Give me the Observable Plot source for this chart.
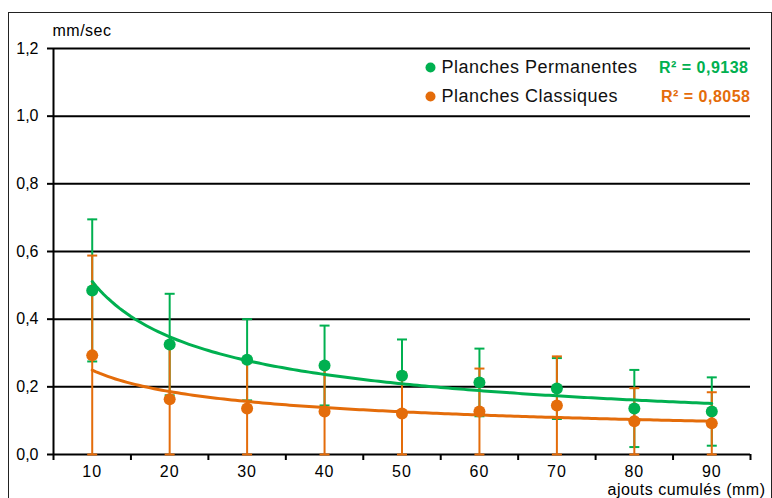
<!DOCTYPE html>
<html>
<head>
<meta charset="utf-8">
<script src="https://cdn.jsdelivr.net/npm/d3@7"></script>
<script src="https://cdn.jsdelivr.net/npm/@observablehq/plot@0.6"></script>
<style>
  html, body { margin: 0; padding: 0; background: #fff; }
  #wrap { position: relative; width: 772px; height: 498px; overflow: hidden; }
  #border { position: absolute; left: 8px; top: 12px; width: 762px; height: 520px; border: 1px solid #222; pointer-events: none; }
  .sp05 text { letter-spacing: 0.5px; }
  .sp1 text { letter-spacing: 1px; }
</style>
</head>
<body>
<div id="wrap"><div id="chart"></div><div id="border"></div></div>
<script>
// ---- data ----
const categories = [10, 20, 30, 40, 50, 60, 70, 80, 90];
const permanentesMean = [0.485, 0.325, 0.280, 0.263, 0.233, 0.213, 0.195, 0.136, 0.127];
const permanentesSd   = [0.210, 0.150, 0.120, 0.118, 0.107, 0.100, 0.090, 0.114, 0.101];
const classiquesMean  = [0.293, 0.163, 0.136, 0.127, 0.121, 0.127, 0.145, 0.098, 0.092];
const classiquesSd    = [0.295, 0.163, 0.136, 0.130, 0.121, 0.127, 0.145, 0.098, 0.092];
const seriesNames = ["Planches Permanentes", "Planches Classiques"];
const seriesColors = ["#00b050", "#e46c0a"];
const r2Labels = ["R² = 0,9138", "R² = 0,8058"];
const yTicks = [0, 0.2, 0.4, 0.6, 0.8, 1.0, 1.2];
const xTickLabels = categories;
const xBandEdges = [5, 15, 25, 35, 45, 55, 65, 75, 85, 95];
const yUnit = "mm/sec";
const xTitle = "ajouts cumulés (mm)";

// ---- build tables ----
function rows(means, sds, s) {
  return categories.map((c, i) => ({
    series: s, x: c, mean: means[i],
    lo: Math.max(0, means[i] - sds[i]), hi: means[i] + sds[i]
  }));
}
const perm = rows(permanentesMean, permanentesSd, 0);
const clas = rows(classiquesMean, classiquesSd, 1);

// power regression y = a x^b (as the spreadsheet trend line)
function powerFit(means) {
  const lx = categories.map(Math.log), ly = means.map(Math.log);
  const mx = d3.mean(lx), my = d3.mean(ly);
  const b = d3.sum(lx, (v, i) => (v - mx) * (ly[i] - my)) / d3.sum(lx, v => (v - mx) ** 2);
  const a = Math.exp(my - b * mx);
  const xs = d3.range(categories[0], categories[categories.length - 1] + 0.001, 0.5);
  return xs.map(x => ({x, y: a * Math.pow(x, b)}));
}
const permFit = powerFit(permanentesMean);
const clasFit = powerFit(classiquesMean);

const capSymbol = {
  draw(ctx, size) {
    const w = Math.sqrt(size / Math.PI);
    ctx.moveTo(-w, 0); ctx.lineTo(w, 0);
  }
};

const fmt = d => d.toFixed(1).replace(".", ",");

function errorMarks(d, color) {
  return [
    Plot.ruleX(d, {x: "x", y1: "lo", y2: "hi", stroke: color, strokeWidth: 2}),
    Plot.dot(d, {x: "x", y: "hi", symbol: capSymbol, r: 5, stroke: color, strokeWidth: 2, fill: "none"}),
    Plot.dot(d, {x: "x", y: "lo", symbol: capSymbol, r: 5, stroke: color, strokeWidth: 2, fill: "none"})
  ];
}

const legendMarks = seriesNames.flatMap((name, i) => [
  Plot.dot([name], {frameAnchor: "top-left", dx: 377, dy: 19 + i * 29, r: 5, fill: seriesColors[i]}),
  Plot.text([name], {text: d => d, frameAnchor: "top-left", dx: 388, dy: 19 + i * 29, textAnchor: "start",
    lineAnchor: "middle", fontSize: 18, fill: "#111", className: "sp05"}),
  Plot.text([r2Labels[i]], {text: d => d, frameAnchor: "top-right", dx: -2 + i * 2, dy: 19 + i * 29, textAnchor: "end",
    lineAnchor: "middle", fontSize: 16, fontWeight: "bold", fill: seriesColors[i], className: "sp05"})
]);

const chart = Plot.plot({
  width: 772,
  height: 498,
  marginLeft: 53,
  marginRight: 22,
  marginTop: 48,
  marginBottom: 44,
  style: {fontFamily: "'Liberation Sans', Arial, sans-serif", fontSize: "14px", color: "#000", background: "transparent"},
  x: {domain: [5, 95]},
  y: {domain: [0, 1.2]},
  marks: [
    Plot.ruleY(yTicks, {stroke: "#000", strokeWidth: 2}),
    Plot.ruleX([xBandEdges[0]], {stroke: "#000", strokeWidth: 2}),
    Plot.axisY({ticks: yTicks, tickFormat: fmt, tickSize: 6, tickPadding: 9, strokeWidth: 2, fontSize: 16, label: null}),
    Plot.axisX({ticks: xBandEdges, tickFormat: () => "", tickSize: 6, strokeWidth: 2, label: null}),
    Plot.axisX({ticks: xTickLabels, tickFormat: d => String(d), tickSize: 0, tickPadding: 11, fontSize: 16, label: null, className: "sp1"}),
    Plot.text([yUnit], {text: d => d, frameAnchor: "top-left", dx: -1, dy: -18, textAnchor: "start", lineAnchor: "middle", fontSize: 16, className: "sp05"}),
    Plot.text([xTitle], {text: d => d, frameAnchor: "bottom-right", dx: -143, dy: 35, textAnchor: "start", lineAnchor: "middle", fontSize: 16, className: "sp05"}),
    ...errorMarks(perm, seriesColors[0]),
    ...errorMarks(clas, seriesColors[1]),
    Plot.line(permFit, {x: "x", y: "y", stroke: seriesColors[0], strokeWidth: 3}),
    Plot.line(clasFit, {x: "x", y: "y", stroke: seriesColors[1], strokeWidth: 3}),
    Plot.dot(perm, {x: "x", y: "mean", r: 6, fill: seriesColors[0]}),
    Plot.dot(clas, {x: "x", y: "mean", r: 6, fill: seriesColors[1]}),
    ...legendMarks
  ]
});
document.getElementById("chart").appendChild(chart);
</script>
</body>
</html>
